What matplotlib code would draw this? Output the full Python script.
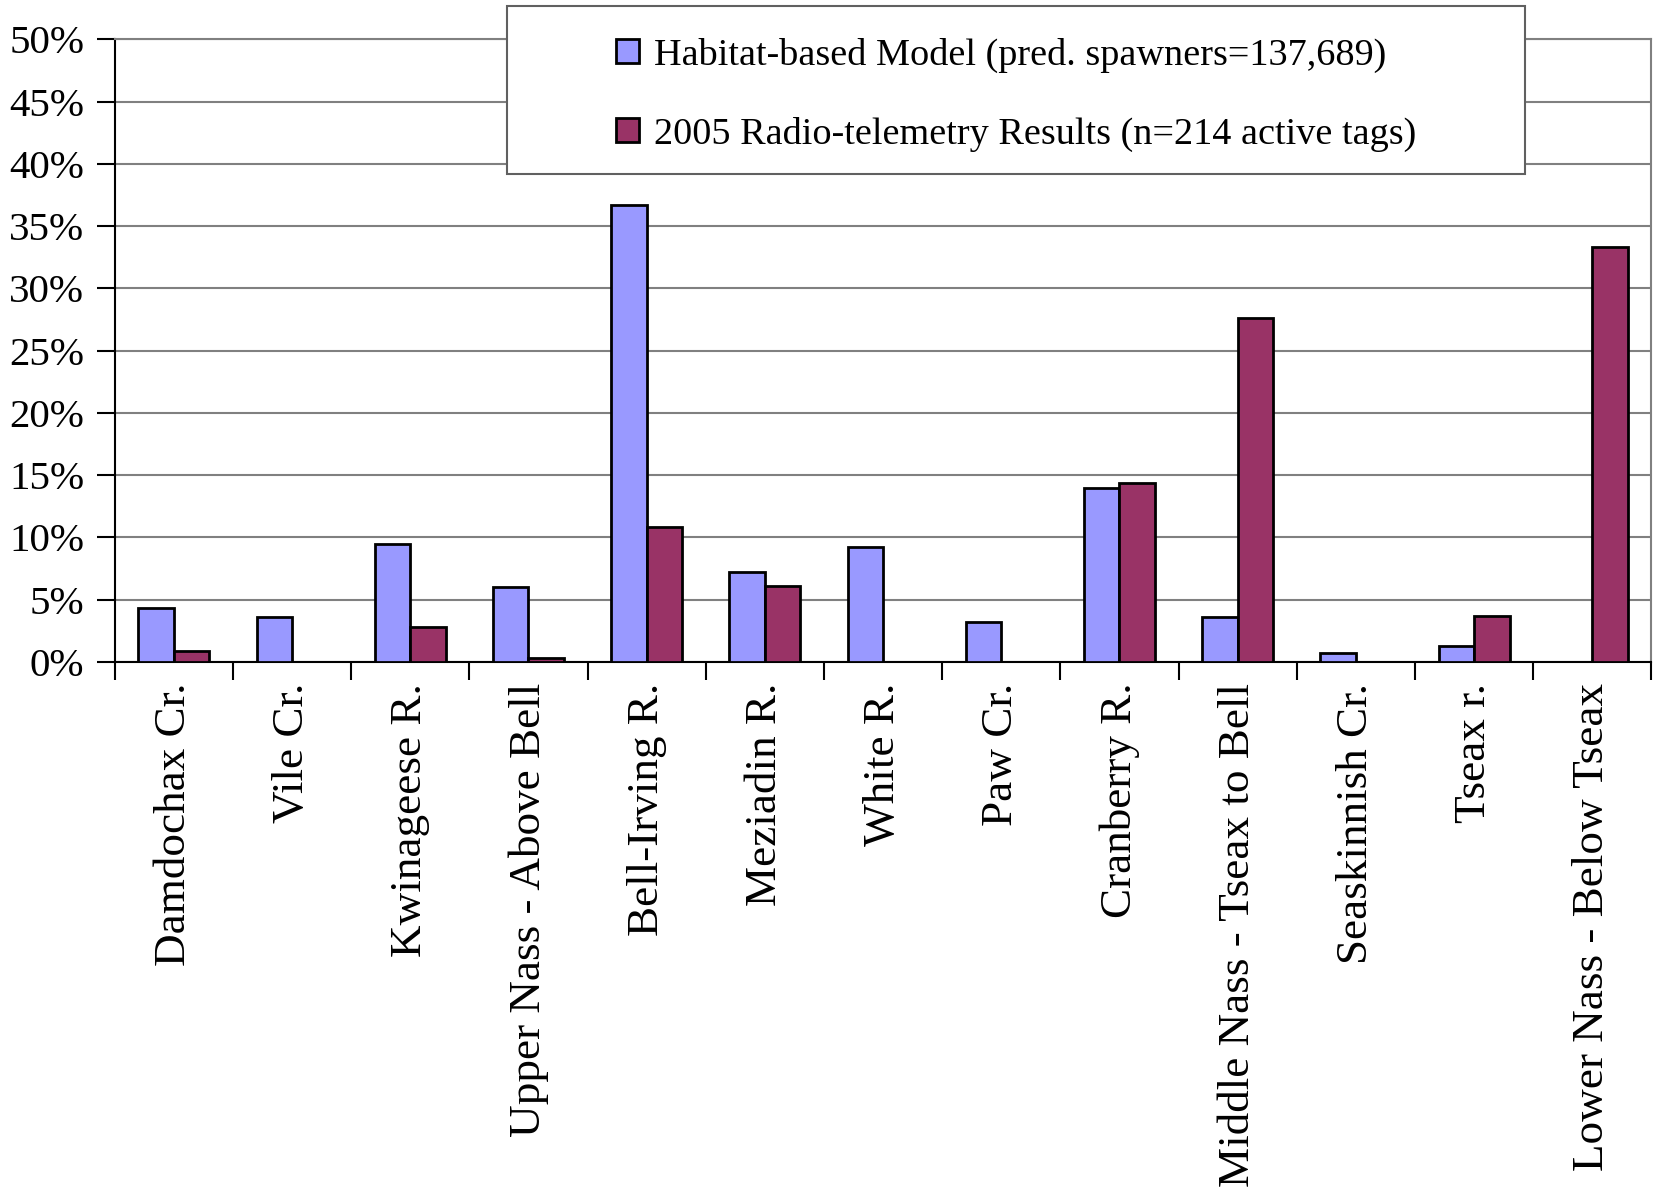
import numpy as np
import matplotlib.pyplot as plt
from matplotlib.patches import Rectangle
from matplotlib.ticker import FuncFormatter, FixedLocator

plt.rcParams['font.family'] = ['Liberation Serif', 'DejaVu Serif']

sites = ['Damdochax Cr.', 'Vile Cr.', 'Kwinageese R.', 'Upper Nass - Above Bell',
         'Bell-Irving R.', 'Meziadin R.', 'White R.', 'Paw Cr.', 'Cranberry R.',
         'Middle Nass - Tseax to Bell', 'Seaskinnish Cr.', 'Tseax r.',
         'Lower Nass - Below Tseax']
habitat = [4.3, 3.6, 9.5, 6.0, 36.7, 7.2, 9.2, 3.2, 14.0, 3.6, 0.7, 1.3, 0.0]
telemetry = [0.9, 0.0, 2.8, 0.35, 10.8, 6.1, 0.0, 0.0, 14.4, 27.6, 0.0, 3.7, 33.3]

label_habitat = 'Habitat-based Model (pred. spawners=137,689)'
label_telemetry = '2005 Radio-telemetry Results (n=214 active tags)'

fig = plt.figure(figsize=(16.63, 11.93), dpi=100)
ax = fig.add_axes([0.069, 0.4451, 0.924, 0.522])

x = np.arange(len(sites))
w = 0.3
b1 = ax.bar(x - w / 2, habitat, w, color='#9999FF', edgecolor='black', linewidth=2,
            label=label_habitat, zorder=3)
b2 = ax.bar(x + w / 2, telemetry, w, color='#993366', edgecolor='black', linewidth=2,
            label=label_telemetry, zorder=3)

ax.set_xlim(-0.5, len(sites) - 0.5)
ax.set_ylim(0, 50)
ax.set_yticks(np.arange(0, 51, 5))
ax.yaxis.set_major_formatter(FuncFormatter(lambda v, p: f'{v:.0f}%'))
ax.grid(axis='y', color='#808080', linewidth=1.5, zorder=0)

# category boundary ticks, labels at centres
ax.xaxis.set_major_locator(FixedLocator(np.arange(-0.5, len(sites), 1.0)))
ax.xaxis.set_major_formatter(FuncFormatter(lambda v, p: ''))
ax.set_xticks(x, minor=True)
ax.set_xticklabels(sites, minor=True, rotation=90, fontsize=32.5, va='top', ha='center')
ax.tick_params(axis='x', which='minor', length=0, pad=15)
ax.tick_params(axis='x', which='major', length=13, width=1.5, direction='out')
ax.tick_params(axis='y', length=13, width=1.5, labelsize=29.5, pad=9)

for s in ['left', 'bottom']:
    ax.spines[s].set_color('black')
    ax.spines[s].set_linewidth(1.5)
for s in ['top', 'right']:
    ax.spines[s].set_color('#808080')
    ax.spines[s].set_linewidth(1.5)

# legend box
lx0, ly0, lw, lh = 507 / 1663, 1 - 174 / 1193, 1018 / 1663, 168 / 1193
fig.patches.append(Rectangle((lx0, ly0), lw, lh, transform=fig.transFigure,
                             facecolor='white', edgecolor='#606060', linewidth=1.5,
                             zorder=5))
leg = fig.legend(handles=[b1, b2], loc='center', bbox_to_anchor=(lx0, ly0 - 0.004, lw, lh),
                 frameon=False, fontsize=27.5, handlelength=0.6, handleheight=0.6,
                 handletextpad=0.4, labelspacing=1.15)
leg.set_zorder(6)

fig.savefig('out.png', dpi=100)
